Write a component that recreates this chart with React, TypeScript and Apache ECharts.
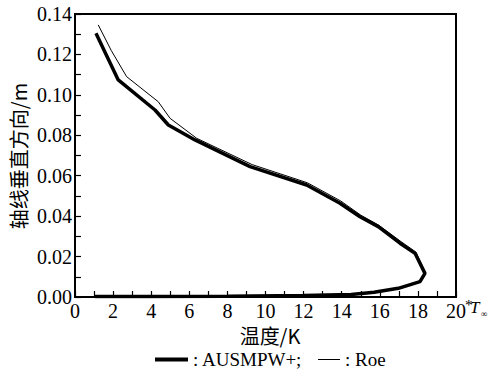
import React, { useEffect, useRef } from "react";
import * as echarts from "echarts";

const ausmpwX = [1.1, 2.27, 4.2, 4.9, 6.3, 9.19, 12.16, 13.91, 14.96, 15.92, 17.06, 17.85, 18.37, 18.11, 16.97, 15.7, 14.5, 12, 8, 4, 1.05];
const ausmpwY = [0.1305, 0.1074, 0.0925, 0.0851, 0.0777, 0.0645, 0.0554, 0.0464, 0.0397, 0.0348, 0.0266, 0.0216, 0.0117, 0.0076, 0.0043, 0.0024, 0.0012, 0.0007, 0.0004, 0.0003, 0.0002];

const roeX = [1.22, 1.9, 2.71, 4.37, 4.99, 6.39, 9.3, 12.2, 13.95, 15.0, 15.95, 17.1, 17.9, 18.4, 18.12, 16.97, 15.7, 14.5, 12, 8, 4, 1.1];
const roeY = [0.1346, 0.122, 0.109, 0.0966, 0.0884, 0.0785, 0.0655, 0.0565, 0.0475, 0.0405, 0.0355, 0.0275, 0.0222, 0.0118, 0.0078, 0.0044, 0.0025, 0.0013, 0.0007, 0.0004, 0.0003, 0.0002];

const xName = "温度/K";
const yName = "轴线垂直方向/m";
const seriesNames = ["AUSMPW+", "Roe"];

const serif = "Liberation Serif";
const cjk = "Noto Sans CJK SC";

export default function App() {
  const ref = useRef<HTMLDivElement>(null);
  useEffect(() => {
    if (!ref.current) return;
    const chart = echarts.init(ref.current, undefined, { renderer: "svg" });
    const zip = (xs: number[], ys: number[]) => xs.map((x, i) => [x, ys[i]]);
    const tickFont = { color: "#000", fontFamily: serif, fontSize: 20 };
    chart.setOption({
      animation: false,
      backgroundColor: "#fff",
      textStyle: { fontFamily: serif, color: "#000" },
      grid: {
        left: 75,
        right: 38,
        top: 14,
        bottom: 83,
        show: true,
        borderColor: "#000",
        borderWidth: 2,
      },
      xAxis: {
        type: "value",
        min: 0,
        max: 20,
        interval: 2,
        axisLine: { lineStyle: { color: "#000", width: 2 } },
        axisTick: { inside: true, length: 6, lineStyle: { color: "#000", width: 1.2 } },
        minorTick: { show: true, splitNumber: 2, length: 6, lineStyle: { color: "#000", width: 1.2 } },
        splitLine: { show: false },
        axisLabel: { ...tickFont, margin: 4 },
      },
      yAxis: {
        type: "value",
        min: 0,
        max: 0.14,
        interval: 0.02,
        axisLine: { lineStyle: { color: "#000", width: 2 } },
        axisTick: { inside: true, length: 6, lineStyle: { color: "#000", width: 1.2 } },
        minorTick: { show: true, splitNumber: 2, length: 6, lineStyle: { color: "#000", width: 1.2 } },
        splitLine: { show: false },
        axisLabel: {
          ...tickFont,
          margin: 3,
          formatter: (v: number) => v.toFixed(2),
        },
      },
      legend: [
        {
          data: [seriesNames[0]],
          left: 150,
          top: 345,
          icon: "rect",
          itemWidth: 33,
          itemHeight: 4,
          itemGap: 0,
          textStyle: { color: "#000", fontFamily: serif, fontSize: 19 },
          formatter: (n: string) => ": " + n + ";",
          selectedMode: false,
        },
        {
          data: [seriesNames[1]],
          left: 313,
          top: 345,
          icon: "rect",
          itemWidth: 22,
          itemHeight: 1,
          itemGap: 0,
          textStyle: { color: "#000", fontFamily: serif, fontSize: 19 },
          formatter: (n: string) => ": " + n,
          selectedMode: false,
        },
      ],
      graphic: [
        {
          type: "text",
          x: 270,
          y: 335,
          style: {
            text: xName,
            fill: "#000",
            font: `20px "${cjk}"`,
            textAlign: "center",
            textVerticalAlign: "middle",
          },
        },
        {
          type: "text",
          x: 18,
          y: 156,
          rotation: Math.PI / 2,
          style: {
            text: yName,
            fill: "#000",
            font: `20px "${cjk}"`,
            textAlign: "center",
            textVerticalAlign: "middle",
          },
        },
        {
          type: "text",
          x: 465,
          y: 297,
          style: { text: "*", fill: "#000", font: `15px "${serif}"` },
        },
        {
          type: "text",
          x: 470,
          y: 299,
          style: { text: "T", fill: "#000", font: `italic 17px "${serif}"` },
        },
        {
          type: "text",
          x: 481,
          y: 309,
          style: { text: "∞", fill: "#000", font: `9px "${serif}"` },
        },
      ],
      series: [
        {
          name: seriesNames[0],
          type: "line",
          data: zip(ausmpwX, ausmpwY),
          symbol: "none",
          lineStyle: { color: "#000", width: 3.5 },
          itemStyle: { color: "#000" },
          z: 2,
        },
        {
          name: seriesNames[1],
          type: "line",
          data: zip(roeX, roeY),
          symbol: "none",
          lineStyle: { color: "#000", width: 1 },
          itemStyle: { color: "#000" },
          z: 3,
        },
      ],
    });
    return () => chart.dispose();
  }, []);
  return (
    <div
      ref={ref}
      style={{ position: "fixed", left: 0, top: 0, width: 494, height: 380 }}
    />
  );
}
